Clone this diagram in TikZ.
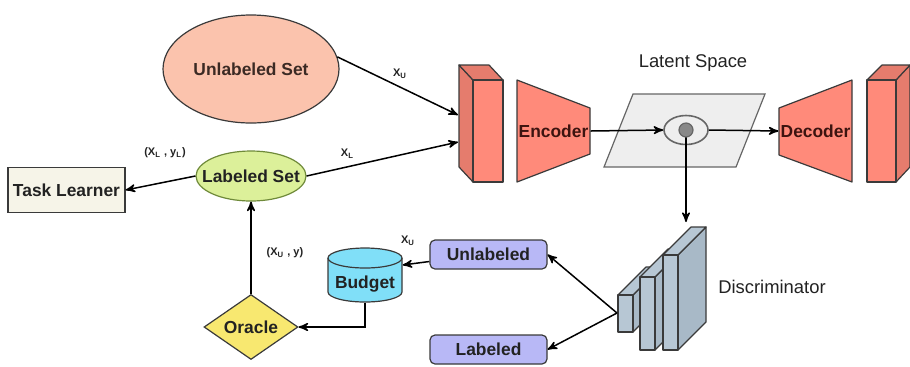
\documentclass[tikz,border=0pt]{standalone}
\usepackage{fontspec}
\setmainfont{Liberation Sans}
\usepackage{xcolor}
\usetikzlibrary{arrows,shapes.geometric}

\definecolor{linegray}{HTML}{3A3A3A}
\definecolor{usetfill}{HTML}{FBC3AD}
\definecolor{usettext}{HTML}{3B2A24}
\definecolor{lsetfill}{HTML}{DCF09A}
\definecolor{lsetline}{HTML}{6F8A3A}
\definecolor{tlfill}{HTML}{F6F4E8}
\definecolor{orfill}{HTML}{F8E870}
\definecolor{budfill}{HTML}{80DFF8}
\definecolor{boxfill}{HTML}{B8B8F6}
\definecolor{redfront}{HTML}{FF8A7A}
\definecolor{redside}{HTML}{E57C6D}
\definecolor{enctext}{HTML}{3D1410}
\definecolor{latfill}{HTML}{EEEEEE}
\definecolor{latline}{HTML}{666666}
\definecolor{dotfill}{HTML}{888888}
\definecolor{discfront}{HTML}{B7C7D4}
\definecolor{discside}{HTML}{A8B9C7}
\definecolor{txt}{HTML}{222222}

\begin{document}
\begin{tikzpicture}[x=0.5pt,y=-0.5pt,>=stealth',
  box/.style={draw=linegray,line width=0.6pt,inner sep=0pt,text=txt,font=\fontsize{8.7}{10}\selectfont\bfseries},
  plain/.style={text=txt,inner sep=0pt,font=\fontsize{9.2}{11}\selectfont},
  lbl/.style={text=txt,inner sep=0pt,font=\fontsize{5.5}{6}\selectfont\bfseries},
  face/.style={draw=linegray,line width=0.6pt,line join=round},
  conn/.style={->,draw=black,line width=0.75pt}]
			\useasboundingbox (0,0) rectangle (910,366);
			% sets, learner, oracle
			\node[box,ellipse,fill=usetfill,text=usettext,minimum width=88pt,minimum height=54pt] (uset) at (251,69) {\makebox[0pt]{Unlabeled Set}};
			\node[box,ellipse,fill=lsetfill,draw=lsetline,minimum width=55pt,minimum height=25pt] (lset) at (251,176) {\makebox[0pt]{Labeled Set}};
			\node[box,fill=tlfill,minimum width=58.5pt,minimum height=22.5pt] (tl) at (66.5,190) {Task Learner};
			\node[box,diamond,fill=orfill,minimum width=47pt,minimum height=32.5pt] (oracle) at (251,327) {\makebox[0pt]{Oracle}};
			% budget cylinder
			\filldraw[face,fill=budfill] (328,258) -- (328,292) arc[start angle=180,end angle=360,x radius=18.5pt,y radius=5pt] -- (402,258) arc[start angle=0,end angle=180,x radius=18.5pt,y radius=5pt] -- cycle;
			\draw[face] (328,258) arc[start angle=180,end angle=360,x radius=18.5pt,y radius=5pt];
			\node[box,draw=none,minimum width=37pt,minimum height=27pt,text height=13pt,text depth=0pt] (budget) at (365,275) {Budget};
			% discriminator outputs
			\node[box,fill=boxfill,rounded corners=2.5pt,minimum width=58.5pt,minimum height=14.5pt] (unl) at (488.5,254.5) {Unlabeled};
			\node[box,fill=boxfill,rounded corners=2.5pt,minimum width=58.5pt,minimum height=14.5pt] (lab) at (488.5,349.5) {Labeled};
			% input block
			\filldraw[face,fill=redside] (459,65) -- (473,80) -- (473,182) -- (459,167) -- cycle;
			\filldraw[face,fill=redside] (459,65) -- (489,65) -- (503,80) -- (473,80) -- cycle;
			\filldraw[face,fill=redfront] (473,80) rectangle (503,182);
			\coordinate (inu) at (458,115);
			\coordinate (inl) at (458,142);
			% encoder
			\filldraw[face,fill=redfront] (517,80) -- (590,108) -- (590,154) -- (517,182) -- cycle;
			\node[box,draw=none,text=enctext,minimum width=36.5pt] (enc) at (553.5,131) {Encoder};
			% latent space
			\filldraw[draw=latline,fill=latfill,line width=0.6pt] (633,94) -- (765,94) -- (736,167) -- (604,167) -- cycle;
			\node[plain] (lat) at (693,63) {Latent Space};
			\node[ellipse,draw=latline,fill=latfill,line width=0.8pt,minimum width=22pt,minimum height=14.5pt] (z) at (686,130) {};
			% decoder
			\filldraw[face,fill=redfront] (779,108) -- (852,80) -- (852,182) -- (779,155) -- cycle;
			\node[box,draw=none,text=enctext,minimum width=36.5pt] (dec) at (815.5,131) {Decoder};
			% output block
			\filldraw[face,fill=redside] (896,80) -- (910,65) -- (910,167) -- (896,182) -- cycle;
			\filldraw[face,fill=redside] (867,80) -- (882,65) -- (910,65) -- (896,80) -- cycle;
			\filldraw[face,fill=redfront] (867,80) rectangle (896,182);
			% discriminator slabs
			\foreach \x/\t/\b in {618/295/332, 640/277/350, 663/255/350}{
				\filldraw[face,fill=discside] (\x+15,\t) -- (\x+43,\t-28) -- (\x+43,\b-28) -- (\x+15,\b) -- cycle;
				\filldraw[face,fill=discfront] (\x,\t) -- (\x+28,\t-28) -- (\x+43,\t-28) -- (\x+15,\t) -- cycle;
				\filldraw[face,fill=discfront] (\x,\t) rectangle (\x+15,\b);
			}
			\node[plain] (disc) at (772,287) {Discriminator};
			\coordinate (disctop) at (686,222);
			\coordinate (discout) at (617,313);
			% connectors
			\draw[conn] (uset.8) -- (inu) node[lbl,pos=0.52,above=4pt] {X\textsubscript{U}};
			\draw[conn] (lset.east) -- (inl) node[lbl,pos=0.27,above=4pt] {X\textsubscript{L}};
			\draw[conn] (lset.west) -- (tl.east);
			\node[lbl] (xlyl) at (165,153) {(X\textsubscript{L} , y\textsubscript{L})};
			\draw[conn] (oracle.north) -- (lset.south);
			\node[lbl] (xuy) at (285,253) {(X\textsubscript{U} , y)};
			\draw[conn] (budget.south) |- (oracle.east);
			\draw[conn] ([yshift=-3.5pt]unl.west) -- ([yshift=5pt]budget.east);
			\node[lbl] (xub) at (408,241) {X\textsubscript{U}};
			\draw[conn] (discout) -- (unl.east);
			\draw[conn] (discout) -- (lab.east);
			\draw[conn] (enc.east) -- (z.west);
			\draw[conn] (z.east) -- (dec.west);
			\draw[conn] (z.center) -- (disctop);
			\node[circle,draw=latline,fill=dotfill,line width=0.6pt,minimum size=7pt,inner sep=0pt] (dot) at (686,130) {};
		\end{tikzpicture}
\end{document}
